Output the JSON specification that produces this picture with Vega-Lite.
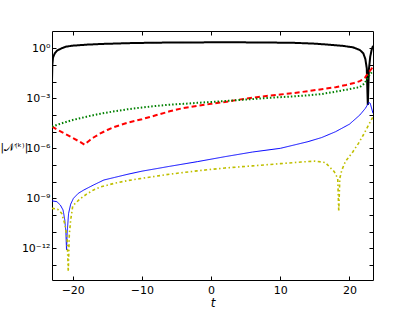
{
  "$schema": "https://vega.github.io/schema/vega-lite/v6.json",
  "width": 321,
  "height": 249,
  "autosize": {"type": "none"},
  "padding": {"left": 52, "top": 31, "right": 42, "bottom": 32},
  "background": "white",
  "config": {
    "view": {"stroke": "black", "strokeWidth": 1},
    "font": "DejaVu Sans",
    "axis": {
      "domain": false,
      "grid": false,
      "tickColor": "black",
      "tickSize": -4,
      "labelColor": "black",
      "labelFont": "DejaVu Sans",
      "labelFontSize": 11,
      "titleFont": "DejaVu Sans",
      "titleFontWeight": "normal",
      "titleColor": "black"
    }
  },
  "data": {
    "values": [
      {"s": "a", "t": -23.0, "v": 0.01259},
      {"s": "a", "t": -22.95, "v": 0.1},
      {"s": "a", "t": -22.85, "v": 0.2818},
      {"s": "a", "t": -22.6, "v": 0.5012},
      {"s": "a", "t": -22.3, "v": 0.7079},
      {"s": "a", "t": -22.0, "v": 0.8318},
      {"s": "a", "t": -21.5, "v": 1.047},
      {"s": "a", "t": -21.0, "v": 1.259},
      {"s": "a", "t": -20.0, "v": 1.445},
      {"s": "a", "t": -18.0, "v": 1.66},
      {"s": "a", "t": -16.0, "v": 1.82},
      {"s": "a", "t": -12.0, "v": 2.042},
      {"s": "a", "t": -8.0, "v": 2.188},
      {"s": "a", "t": -4.0, "v": 2.239},
      {"s": "a", "t": 0.0, "v": 2.291},
      {"s": "a", "t": 4.0, "v": 2.291},
      {"s": "a", "t": 8.0, "v": 2.239},
      {"s": "a", "t": 12.0, "v": 2.138},
      {"s": "a", "t": 15.0, "v": 1.905},
      {"s": "a", "t": 17.0, "v": 1.66},
      {"s": "a", "t": 19.0, "v": 1.413},
      {"s": "a", "t": 20.5, "v": 1.148},
      {"s": "a", "t": 21.5, "v": 0.7943},
      {"s": "a", "t": 22.0, "v": 0.5012},
      {"s": "a", "t": 22.3, "v": 0.2239},
      {"s": "a", "t": 22.5, "v": 0.0631},
      {"s": "a", "t": 22.65, "v": 0.0003981},
      {"s": "a", "t": 22.8, "v": 0.05012},
      {"s": "a", "t": 23.0, "v": 0.3162},
      {"s": "a", "t": 23.2, "v": 0.7943},
      {"s": "a", "t": 23.4, "v": 1.413},

      {"s": "b", "t": -23.0, "v": 1.995e-5},
      {"s": "b", "t": -22.0, "v": 1.175e-5},
      {"s": "b", "t": -21.0, "v": 7.079e-6},
      {"s": "b", "t": -20.0, "v": 4.169e-6},
      {"s": "b", "t": -19.0, "v": 2.512e-6},
      {"s": "b", "t": -18.3, "v": 1.66e-6},
      {"s": "b", "t": -17.5, "v": 3.162e-6},
      {"s": "b", "t": -17.0, "v": 4.467e-6},
      {"s": "b", "t": -16.0, "v": 7.943e-6},
      {"s": "b", "t": -15.0, "v": 1.259e-5},
      {"s": "b", "t": -14.0, "v": 1.905e-5},
      {"s": "b", "t": -12.0, "v": 3.548e-5},
      {"s": "b", "t": -10.0, "v": 5.623e-5},
      {"s": "b", "t": -8.0, "v": 9.55e-5},
      {"s": "b", "t": -6.0, "v": 1.66e-4},
      {"s": "b", "t": -4.0, "v": 2.63e-4},
      {"s": "b", "t": -2.0, "v": 3.548e-4},
      {"s": "b", "t": 0.0, "v": 4.677e-4},
      {"s": "b", "t": 2.0, "v": 6.026e-4},
      {"s": "b", "t": 4.0, "v": 8.318e-4},
      {"s": "b", "t": 6.0, "v": 1.096e-3},
      {"s": "b", "t": 8.0, "v": 1.38e-3},
      {"s": "b", "t": 10.0, "v": 1.698e-3},
      {"s": "b", "t": 12.0, "v": 2.089e-3},
      {"s": "b", "t": 14.0, "v": 2.692e-3},
      {"s": "b", "t": 16.0, "v": 3.548e-3},
      {"s": "b", "t": 18.0, "v": 4.677e-3},
      {"s": "b", "t": 19.5, "v": 6.31e-3},
      {"s": "b", "t": 20.5, "v": 7.943e-3},
      {"s": "b", "t": 21.5, "v": 1.072e-2},
      {"s": "b", "t": 22.2, "v": 1.66e-2},
      {"s": "b", "t": 22.6, "v": 2.818e-2},
      {"s": "b", "t": 23.0, "v": 4.677e-2},
      {"s": "b", "t": 23.4, "v": 7.586e-2},

      {"s": "c", "t": -23.0, "v": 1.995e-5},
      {"s": "c", "t": -22.0, "v": 2.818e-5},
      {"s": "c", "t": -20.0, "v": 5.012e-5},
      {"s": "c", "t": -18.0, "v": 7.943e-5},
      {"s": "c", "t": -16.0, "v": 1.202e-4},
      {"s": "c", "t": -14.0, "v": 1.66e-4},
      {"s": "c", "t": -12.0, "v": 2.239e-4},
      {"s": "c", "t": -10.0, "v": 2.818e-4},
      {"s": "c", "t": -8.0, "v": 3.467e-4},
      {"s": "c", "t": -6.0, "v": 4.169e-4},
      {"s": "c", "t": -4.0, "v": 4.677e-4},
      {"s": "c", "t": -2.0, "v": 5.37e-4},
      {"s": "c", "t": 0.0, "v": 6.026e-4},
      {"s": "c", "t": 2.0, "v": 6.918e-4},
      {"s": "c", "t": 4.0, "v": 7.943e-4},
      {"s": "c", "t": 6.0, "v": 9.12e-4},
      {"s": "c", "t": 8.0, "v": 1.047e-3},
      {"s": "c", "t": 10.0, "v": 1.175e-3},
      {"s": "c", "t": 12.0, "v": 1.318e-3},
      {"s": "c", "t": 14.0, "v": 1.514e-3},
      {"s": "c", "t": 16.0, "v": 1.82e-3},
      {"s": "c", "t": 18.0, "v": 2.512e-3},
      {"s": "c", "t": 20.0, "v": 3.548e-3},
      {"s": "c", "t": 21.5, "v": 4.786e-3},
      {"s": "c", "t": 22.2, "v": 7.943e-3},
      {"s": "c", "t": 22.6, "v": 1.585e-2},
      {"s": "c", "t": 23.0, "v": 2.818e-2},
      {"s": "c", "t": 23.4, "v": 4.467e-2},

      {"s": "d", "t": -23.0, "v": 7.079e-10},
      {"s": "d", "t": -22.3, "v": 6.31e-10},
      {"s": "d", "t": -21.8, "v": 3.981e-10},
      {"s": "d", "t": -21.4, "v": 1.995e-10},
      {"s": "d", "t": -21.15, "v": 5.012e-11},
      {"s": "d", "t": -21.0, "v": 1e-11},
      {"s": "d", "t": -20.9, "v": 7.943e-13},
      {"s": "d", "t": -20.8, "v": 1e-11},
      {"s": "d", "t": -20.6, "v": 1.259e-10},
      {"s": "d", "t": -20.3, "v": 4.467e-10},
      {"s": "d", "t": -19.9, "v": 1e-9},
      {"s": "d", "t": -19.2, "v": 1.995e-9},
      {"s": "d", "t": -18.4, "v": 3.162e-9},
      {"s": "d", "t": -17.0, "v": 6.31e-9},
      {"s": "d", "t": -15.5, "v": 1.259e-8},
      {"s": "d", "t": -14.0, "v": 1.778e-8},
      {"s": "d", "t": -12.0, "v": 2.818e-8},
      {"s": "d", "t": -10.0, "v": 4.266e-8},
      {"s": "d", "t": -6.0, "v": 8.318e-8},
      {"s": "d", "t": -2.0, "v": 1.585e-7},
      {"s": "d", "t": 2.0, "v": 3.162e-7},
      {"s": "d", "t": 6.0, "v": 6.026e-7},
      {"s": "d", "t": 10.0, "v": 1e-6},
      {"s": "d", "t": 14.0, "v": 2.512e-6},
      {"s": "d", "t": 16.0, "v": 4.467e-6},
      {"s": "d", "t": 18.0, "v": 1e-5},
      {"s": "d", "t": 20.0, "v": 2.818e-5},
      {"s": "d", "t": 21.5, "v": 1e-4},
      {"s": "d", "t": 22.3, "v": 2.512e-4},
      {"s": "d", "t": 22.8, "v": 5.623e-4},
      {"s": "d", "t": 23.0, "v": 5.012e-4},
      {"s": "d", "t": 23.4, "v": 1.259e-4},

      {"s": "e", "t": -23.0, "v": 2.512e-10},
      {"s": "e", "t": -22.2, "v": 2.239e-10},
      {"s": "e", "t": -21.6, "v": 1.259e-10},
      {"s": "e", "t": -21.1, "v": 2.512e-11},
      {"s": "e", "t": -20.8, "v": 3.162e-12},
      {"s": "e", "t": -20.65, "v": 3.981e-14},
      {"s": "e", "t": -20.5, "v": 6.31e-12},
      {"s": "e", "t": -20.3, "v": 5.012e-11},
      {"s": "e", "t": -20.0, "v": 3.548e-10},
      {"s": "e", "t": -19.0, "v": 8.913e-10},
      {"s": "e", "t": -18.0, "v": 1.778e-9},
      {"s": "e", "t": -17.0, "v": 3.162e-9},
      {"s": "e", "t": -16.0, "v": 4.786e-9},
      {"s": "e", "t": -14.0, "v": 7.943e-9},
      {"s": "e", "t": -12.0, "v": 1.175e-8},
      {"s": "e", "t": -10.0, "v": 1.585e-8},
      {"s": "e", "t": -6.0, "v": 2.818e-8},
      {"s": "e", "t": -2.0, "v": 4.467e-8},
      {"s": "e", "t": 2.0, "v": 6.607e-8},
      {"s": "e", "t": 6.0, "v": 8.913e-8},
      {"s": "e", "t": 10.0, "v": 1.202e-7},
      {"s": "e", "t": 13.0, "v": 1.514e-7},
      {"s": "e", "t": 15.0, "v": 1.698e-7},
      {"s": "e", "t": 16.5, "v": 1.413e-7},
      {"s": "e", "t": 17.2, "v": 7.079e-8},
      {"s": "e", "t": 17.8, "v": 3.981e-8},
      {"s": "e", "t": 18.3, "v": 1.585e-8},
      {"s": "e", "t": 18.45, "v": 1.585e-10},
      {"s": "e", "t": 18.6, "v": 1.585e-8},
      {"s": "e", "t": 18.9, "v": 5.012e-8},
      {"s": "e", "t": 19.4, "v": 1.585e-7},
      {"s": "e", "t": 20.5, "v": 6.31e-7},
      {"s": "e", "t": 21.3, "v": 1.995e-6},
      {"s": "e", "t": 22.0, "v": 6.31e-6},
      {"s": "e", "t": 23.4, "v": 7.943e-5}
    ]
  },
  "layer": [
    {
      "mark": {"type": "line", "clip": true, "strokeCap": "butt"},
      "encoding": {
        "x": {
          "field": "t", "type": "quantitative",
          "scale": {"domain": [-23.0, 23.4], "nice": false, "zero": false},
          "axis": {"values": [-20, -10, 0, 10, 20], "title": "t", "titleFontStyle": "italic", "titleFontSize": 12, "titlePadding": 2, "labelPadding": 8, "labelExpr": "replace(format(datum.value, 'd'), '-', '\u2212')"}
        },
        "y": {
          "field": "v", "type": "quantitative",
          "scale": {"type": "log", "domain": [1.26e-14, 10.96], "nice": false},
          "axis": {
            "values": [1e-13, 1e-12, 1e-11, 1e-10, 1e-9, 1e-8, 1e-7, 1e-6, 1e-5, 1e-4, 1e-3, 1e-2, 1e-1, 1],
            "labelExpr": "round(log(datum.value)/LN10) == 0 ? '10\u2070' : round(log(datum.value)/LN10) == -3 ? '10\u207b\u00b3' : round(log(datum.value)/LN10) == -6 ? '10\u207b\u2076' : round(log(datum.value)/LN10) == -9 ? '10\u207b\u2079' : round(log(datum.value)/LN10) == -12 ? '10\u207b\u00b9\u00b2' : ''",
            "labelPadding": 6,
            "title": "|\ud835\udca9\u207d\u1d4f\u207e|",
            "titleAngle": 0,
            "titleAlign": "left",
            "titleBaseline": "middle",
            "titleX": -52,
            "titleY": 116,
            "titleFontSize": 10.5
          }
        },
        "color": {
          "field": "s", "type": "nominal", "legend": null,
          "scale": {"domain": ["a", "b", "c", "d", "e"], "range": ["#000000", "#ff0000", "#008000", "#0000ff", "#bfbf00"]}
        },
        "strokeDash": {
          "field": "s", "type": "nominal", "legend": null,
          "scale": {"type": "ordinal", "domain": ["a", "b", "c", "d", "e"], "range": [[1, 0], [5, 3], [1.5, 2], [1, 0], [3, 2.5, 1.5, 2.5]]}
        },
        "strokeWidth": {
          "field": "s", "type": "nominal", "legend": null,
          "scale": {"type": "ordinal", "domain": ["a", "b", "c", "d", "e"], "range": [2, 2, 2, 1, 1.6]}
        }
      }
    },
    {
      "mark": {"type": "line", "opacity": 0},
      "encoding": {
        "x": {
          "field": "t", "type": "quantitative",
          "axis": {"orient": "top", "values": [-20, -10, 0, 10, 20], "labels": false, "title": null}
        },
        "y": {
          "field": "v", "type": "quantitative",
          "axis": {"orient": "right", "values": [1e-13, 1e-12, 1e-11, 1e-10, 1e-9, 1e-8, 1e-7, 1e-6, 1e-5, 1e-4, 1e-3, 1e-2, 1e-1, 1], "labels": false, "title": null}
        },
        "detail": {"field": "s", "type": "nominal"}
      }
    }
  ],
  "resolve": {"axis": {"x": "independent", "y": "independent"}}
}
